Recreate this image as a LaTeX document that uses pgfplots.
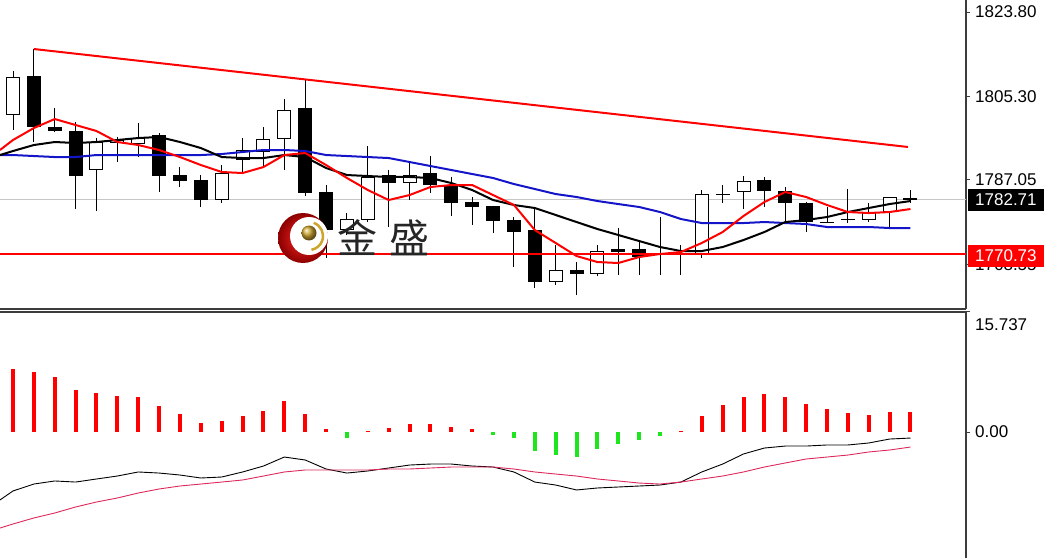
\documentclass[border=0pt]{standalone}
\usepackage{pgfplots}
\usepackage{pgfplotstable}
\pgfplotsset{compat=1.18}
\usepackage{fontspec}
\setmainfont{Liberation Sans}
\newfontfamily\cjk{Noto Sans CJK SC}
\definecolor{maBlue}{RGB}{20,20,200}
\definecolor{axisGray}{RGB}{60,60,60}
\definecolor{macdPink}{RGB}{220,40,90}
\definecolor{histGreen}{RGB}{30,230,30}
\definecolor{goldc}{RGB}{205,165,45}

\pgfplotstableread{
i O H L C
0 1801.25 1810.88 1797.97 1809.57
1 1809.79 1815.70 1795.34 1798.62
2 1798.62 1802.78 1797.53 1797.75
3 1797.75 1799.72 1780.67 1787.89
4 1789.21 1796.21 1780.23 1795.34
5 1795.12 1796.44 1790.96 1795.78
6 1794.90 1799.50 1792.05 1796.21
7 1796.87 1797.30 1784.39 1787.89
8 1788.11 1789.86 1785.49 1786.80
9 1787.02 1788.11 1781.11 1782.64
10 1782.64 1790.30 1781.98 1788.55
11 1791.40 1796.21 1788.77 1793.59
12 1793.15 1798.62 1789.65 1796.00
13 1796.00 1804.75 1789.21 1802.35
14 1802.78 1808.91 1783.52 1784.17
15 1784.39 1785.92 1769.94 1776.07
16 1776.07 1779.79 1774.98 1778.48
17 1778.26 1794.46 1777.90 1787.68
18 1788.11 1789.21 1776.73 1786.36
19 1786.36 1790.74 1782.64 1788.11
20 1788.55 1792.27 1784.17 1785.92
21 1785.92 1787.68 1779.14 1781.98
22 1782.20 1783.30 1777.17 1781.11
23 1781.33 1781.40 1775.41 1778.04
24 1778.26 1778.92 1767.97 1775.63
25 1776.07 1781.11 1763.37 1764.69
26 1764.69 1772.79 1764.03 1767.32
27 1767.32 1769.06 1761.84 1766.44
28 1766.44 1772.79 1766.00 1771.47
29 1771.91 1776.51 1766.22 1771.25
30 1771.91 1773.88 1766.22 1770.16
31 1770.82 1778.92 1766.22 1770.70
32 1770.82 1772.79 1766.22 1770.90
33 1770.82 1784.83 1769.94 1783.95
34 1783.95 1785.92 1781.98 1783.90
35 1784.39 1787.89 1780.67 1786.80
36 1787.02 1787.68 1781.11 1784.61
37 1784.61 1785.49 1777.60 1781.98
38 1781.98 1782.10 1775.63 1777.82
39 1777.82 1781.11 1777.60 1777.80
40 1778.48 1785.05 1777.60 1778.50
41 1778.26 1781.98 1777.82 1780.01
42 1780.01 1783.35 1776.51 1783.30
43 1783.08 1784.83 1781.98 1782.71
}\candles

\pgfplotstableread{
i red black blue
-0.623 1793.59 1792.49 1792.49
0 1795.78 1793.37 1792.49
1 1798.40 1794.68 1792.27
2 1800.37 1795.34 1792.05
3 1799.06 1795.12 1792.05
4 1797.75 1795.34 1792.49
5 1795.34 1795.78 1792.49
6 1794.68 1796.21 1792.49
7 1793.59 1796.44 1792.49
8 1792.05 1795.34 1792.49
9 1790.30 1794.02 1792.49
10 1788.77 1792.05 1792.71
11 1788.55 1791.83 1793.15
12 1789.86 1791.83 1793.59
13 1792.49 1792.49 1793.59
14 1792.93 1792.05 1793.37
15 1790.30 1789.65 1792.49
16 1787.46 1788.11 1792.27
17 1784.83 1787.89 1792.05
18 1782.64 1787.68 1791.83
19 1783.73 1787.68 1790.96
20 1785.49 1787.46 1790.08
21 1785.92 1786.36 1789.21
22 1785.92 1784.83 1788.33
23 1783.73 1782.64 1787.46
24 1781.55 1781.55 1786.14
25 1776.07 1780.89 1785.05
26 1773.23 1779.36 1783.95
27 1770.38 1777.82 1783.30
28 1769.06 1776.29 1782.42
29 1768.85 1774.98 1781.76
30 1770.16 1773.66 1781.11
31 1770.82 1772.35 1780.01
32 1771.25 1771.47 1778.48
33 1773.23 1771.47 1777.60
34 1775.63 1772.35 1777.60
35 1779.14 1773.88 1777.60
36 1782.20 1775.63 1777.82
37 1784.39 1777.82 1777.60
38 1783.30 1778.26 1777.39
39 1781.55 1778.92 1776.73
40 1780.01 1780.01 1776.73
41 1779.79 1780.89 1776.73
42 1780.01 1781.76 1776.51
43 1780.67 1782.42 1776.51
}\mas

\pgfplotstableread{
i h macd sig
-0.623 0 -8.91 -12.59
0 8.26 -7.73 -12.06
1 7.87 -6.82 -11.27
2 7.21 -6.42 -10.62
3 5.51 -6.56 -9.83
4 5.11 -6.16 -9.18
5 4.72 -5.77 -8.65
6 4.59 -5.24 -8.00
7 3.41 -5.38 -7.47
8 2.36 -5.64 -7.08
9 1.18 -6.03 -6.82
10 1.44 -5.90 -6.56
11 2.10 -5.24 -6.29
12 2.75 -4.46 -5.77
13 4.06 -3.28 -5.24
14 2.36 -3.67 -4.98
15 0.39 -4.85 -4.98
16 -0.79 -5.38 -4.98
17 0.13 -5.11 -4.98
18 0.52 -4.72 -4.85
19 1.05 -4.33 -4.85
20 1.05 -4.20 -4.72
21 0.66 -4.20 -4.59
22 0.39 -4.46 -4.59
23 -0.39 -4.59 -4.59
24 -0.79 -5.24 -4.85
25 -2.49 -6.56 -5.24
26 -3.02 -6.95 -5.51
27 -3.28 -7.60 -5.77
28 -2.23 -7.34 -6.16
29 -1.57 -7.21 -6.42
30 -1.05 -7.08 -6.69
31 -0.52 -6.95 -6.82
32 0.13 -6.56 -6.56
33 2.10 -5.24 -6.16
34 3.54 -4.20 -5.77
35 4.59 -2.88 -5.24
36 4.98 -2.10 -4.59
37 4.59 -1.84 -4.06
38 3.67 -1.84 -3.54
39 3.02 -1.70 -3.28
40 2.49 -1.70 -3.02
41 2.23 -1.44 -2.62
42 2.62 -0.92 -2.36
43 2.62 -0.79 -1.97
}\macdtab

\begin{document}
\begin{tikzpicture}[x=1pt,y=1pt]
\path[use as bounding box] (0,0) rectangle (1044,558);

\begin{axis}[
  at={(0pt,249pt)}, anchor=south west, scale only axis,
  width=966pt, height=309pt,
  xmin=-0.623, xmax=45.66, ymin=1758.78, ymax=1826.43,
  axis x line*=bottom, axis y line*=right,
  axis line style={axisGray, line width=1.2pt, -},
  xtick=\empty,
  ytick={1768.55,1787.05,1805.30,1823.80},
  yticklabels={1768.55,1787.05,1805.30,1823.80},
  tick align=outside, major tick length=4pt,
  tick style={axisGray, line width=1pt},
  yticklabel style={font=\fontsize{17}{20}\selectfont, anchor=west, inner sep=0pt, text=black, xshift=5pt},
  clip mode=individual,
  candle/.style={only marks, no markers, mark size=0pt, error bars/.cd, y dir=minus, y explicit, error mark=none},
]
\addplot[gray!45, line width=1pt] coordinates {(-0.623,1782.71) (45.66,1782.71)};
% wicks
\addplot[candle, error bar style={line width=1pt, black}]
  table[x=i, y=H, y error minus expr={\thisrow{H}-\thisrow{L}}] {\candles};
% bodies
\addplot[candle, error bar style={line width=14pt, black}]
  table[x=i, y expr={max(\thisrow{O},\thisrow{C})}, y error minus expr={max(abs(\thisrow{O}-\thisrow{C}),0.22)}] {\candles};
\addplot[candle, error bar style={line width=12pt, white}]
  table[x=i, y expr={\thisrow{C}-0.22}, y error minus expr={max(\thisrow{C}-\thisrow{O}-0.44,0)}] {\candles};
% moving averages
\addplot[maBlue, line width=2pt] table[x=i, y=blue] {\mas};
\addplot[black, line width=2pt] table[x=i, y=black] {\mas};
\addplot[red, line width=2pt] table[x=i, y=red] {\mas};
% objects
\addplot[red, line width=2pt] coordinates {(-0.623,1770.73) (45.66,1770.73)};
\addplot[red, line width=2pt] coordinates {(1,1815.70) (42.88,1794.25)};
\coordinate (bidlab) at (axis cs:45.66,1782.71);
\coordinate (hlab) at (axis cs:45.66,1770.73);
\end{axis}

\node[fill=black, text=white, anchor=west, inner xsep=7pt, inner ysep=0pt, minimum height=22pt,
  font=\fontsize{17}{20}\selectfont] at ([xshift=2pt]bidlab) {1782.71};
\node[fill=red, text=white, anchor=west, inner xsep=7pt, inner ysep=0pt, minimum height=22pt,
  font=\fontsize{17}{20}\selectfont] at ([xshift=2pt,yshift=-1.5pt]hlab) {1770.73};

% logo
\shade[inner color=red!85, outer color=red!55!black] (303,320) circle (25);
\fill[white] (309,322) circle (19);
\draw[goldc, line width=2.5pt] (309,322) ++(70:14) arc (70:-80:14);
\shade[ball color=goldc] (309,325) circle (7.5);
\node[anchor=west, text=black!85, inner sep=0pt] at (337,320.5) {\cjk\fontsize{40}{40}\selectfont 金\hspace{12pt}盛};

\begin{axis}[
  at={(0pt,0pt)}, anchor=south west, scale only axis,
  width=966pt, height=246pt,
  xmin=-0.623, xmax=45.66, ymin=-16.52, ymax=15.737,
  axis x line*=top, axis y line*=right,
  axis line style={axisGray, line width=1.2pt, -},
  xtick=\empty,
  ytick={0}, yticklabels={0.00},
  extra y ticks={15.737}, extra y tick labels={15.737},
  extra y tick style={yticklabel style={yshift=-13pt}},
  tick align=outside, major tick length=4pt,
  tick style={axisGray, line width=1pt},
  yticklabel style={font=\fontsize{17}{20}\selectfont, anchor=west, inner sep=0pt, text=black, xshift=5pt},
  clip mode=individual,
]
\addplot[ycomb, red, line width=4pt, mark=none] table[x=i, y expr={max(\thisrow{h},0)}] {\macdtab};
\addplot[ycomb, histGreen, line width=4pt, mark=none] table[x=i, y expr={min(\thisrow{h},0)}] {\macdtab};
\addplot[black, line width=0.9pt] table[x=i, y=macd] {\macdtab};
\addplot[macdPink, line width=0.9pt] table[x=i, y=sig] {\macdtab};
\end{axis}
\end{tikzpicture}
\end{document}
